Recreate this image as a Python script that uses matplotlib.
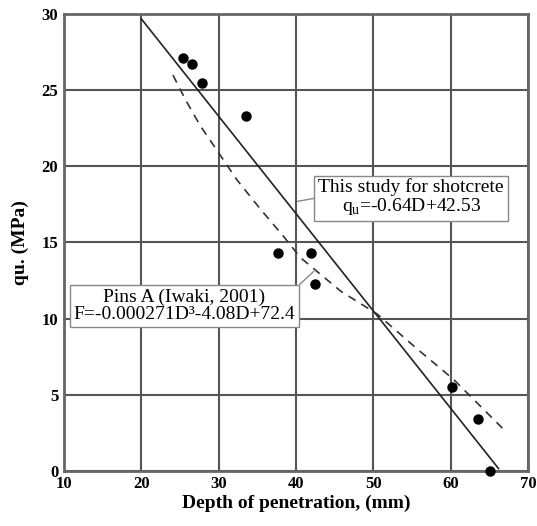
import matplotlib.pyplot as plt

plt.rcParams['font.family'] = ['Liberation Serif', 'DejaVu Serif']

# measured points: depth of penetration (mm) vs qu (MPa)
depth = [25.4, 26.6, 27.9, 33.6, 37.7, 42.0, 42.5, 60.2, 63.6, 65.1]
qu = [27.1, 26.7, 25.5, 23.3, 14.3, 14.3, 12.3, 5.5, 3.4, 0.0]

# this study fit line (end points)
fit_d = [20.0, 66.2]
fit_q = [29.7, 0.15]

# Pins A (Iwaki, 2001) curve
pins_d = [24.1, 25.7, 27.6, 30.0, 32.4, 35.4, 38.4, 40.6, 45.8, 50.5, 55.7, 60.4, 67.1]
pins_q = [26.0, 24.4, 22.7, 20.9, 19.1, 17.2, 15.4, 14.0, 11.8, 10.3, 8.0, 6.0, 2.6]

xticks = [10, 20, 30, 40, 50, 60, 70]
yticks = [0, 5, 10, 15, 20, 25, 30]

fig = plt.figure(figsize=(5.37, 5.26), dpi=100)
ax = fig.add_axes([0.119, 0.105, 0.864, 0.868])

ax.plot(fit_d, fit_q, color='#222222', lw=1.2, zorder=3)
ax.plot(pins_d, pins_q, color='#333333', lw=1.2, ls=(0, (5, 4)), zorder=3)
ax.plot(depth, qu, 'o', color='black', ms=6.5, zorder=4, clip_on=False)

ax.set_xlim(10, 70)
ax.set_ylim(0, 30)
ax.set_xticks(xticks)
ax.set_yticks(yticks)
ax.grid(True, color='#555555', lw=1.5)
ax.set_axisbelow(True)
for s in ax.spines.values():
    s.set_color('#666666')
    s.set_linewidth(2)
ax.tick_params(length=0, labelsize=12, pad=4)
for lab in ax.get_xticklabels() + ax.get_yticklabels():
    lab.set_fontweight('bold')

ax.set_xlabel('Depth of penetration, (mm)', fontsize=14, fontweight='bold', labelpad=2)
ax.set_ylabel('qu. (MPa)', fontsize=14, fontweight='bold', labelpad=9)

box = dict(boxstyle='square,pad=0.2', fc='white', ec='#888888', lw=1)
ax.annotate('This study for shotcrete\nq$_\\mathregular{u}$=-0.64D+42.53',
            xy=(40.2, 17.7), xytext=(54.9, 17.95), ha='center', va='center',
            fontsize=14, linespacing=1.0, bbox=box, zorder=5,
            arrowprops=dict(arrowstyle='-', color='#888888', lw=1, relpos=(0, 0.5),
                            shrinkA=0, shrinkB=0))
ax.annotate('Pins A (Iwaki, 2001)\nF=-0.000271D³-4.08D+72.4',
            xy=(42.3, 13.1), xytext=(25.6, 10.85), ha='center', va='center',
            fontsize=14, linespacing=1.0, bbox=box, zorder=5,
            arrowprops=dict(arrowstyle='-', color='#888888', lw=1, relpos=(1, 1),
                            shrinkA=0, shrinkB=0))

fig.savefig('out.png', dpi=100)
